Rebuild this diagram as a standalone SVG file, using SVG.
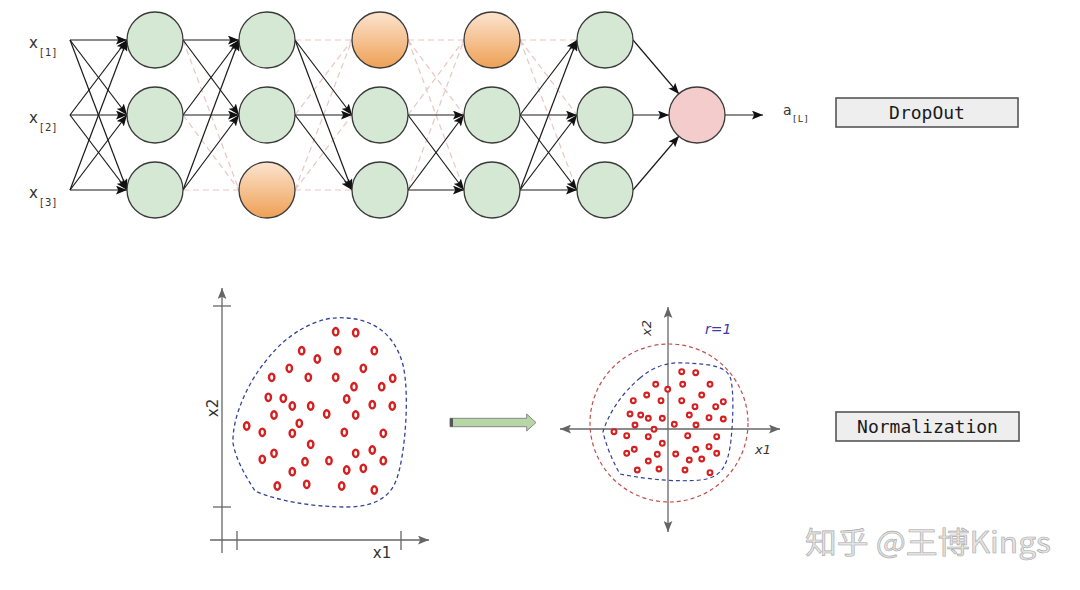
<svg xmlns="http://www.w3.org/2000/svg" width="1080" height="590" viewBox="0 0 1080 590">
<style>
.n{fill:#d5e8d4;stroke:#3a3a3a;stroke-width:1.3}
.o{fill:url(#og);stroke:#3a3a3a;stroke-width:1.3}
.p{fill:#f4cccc;stroke:#3a3a3a;stroke-width:1.3}
.s{stroke:#1a1a1a;stroke-width:1.2;fill:none;marker-end:url(#ah)}
.d{stroke:#e8c6c2;stroke-width:1.2;fill:none;stroke-dasharray:6 4}
.lbl{font-family:"DejaVu Sans",sans-serif;fill:#333}
.box{fill:#eeeeee;stroke:#555;stroke-width:1.6}
.mono{font-family:"DejaVu Sans Mono","Liberation Mono",monospace;font-size:18px;fill:#1a1a1a;text-anchor:middle}
.ax{stroke:#666;stroke-width:1.3;fill:none}
.rl{fill:#fff;stroke:#d42020;stroke-width:2.4}
.rr{fill:#fff;stroke:#d42020;stroke-width:2.1}
</style>
<defs>
<linearGradient id="og" x1="0" y1="0" x2="0" y2="1">
<stop offset="0" stop-color="#fce4cf"/>
<stop offset="1" stop-color="#eea055"/>
</linearGradient>
<marker id="ah" viewBox="0 0 10 8" refX="10" refY="4" markerWidth="11" markerHeight="9" markerUnits="userSpaceOnUse" orient="auto">
<path d="M0,0 L10,4 L0,8 L2,4 z" fill="#111"/>
</marker>
<marker id="ga" viewBox="0 0 10 8" refX="10" refY="4" markerWidth="11" markerHeight="9" markerUnits="userSpaceOnUse" orient="auto">
<path d="M0,0 L10,4 L0,8 L2,4 z" fill="#666"/>
</marker>
<marker id="gs" viewBox="0 0 10 8" refX="0" refY="4" markerWidth="11" markerHeight="9" markerUnits="userSpaceOnUse" orient="auto">
<path d="M10,0 L0,4 L10,8 L8,4 z" fill="#666"/>
</marker>
</defs>
<rect width="1080" height="590" fill="#ffffff"/>

<g id="connectors">
<path class="d" d="M183,40 L239,190 M183,115 L239,190 M183,190 L239,190"/>
<path class="d" d="M295,40 L352,40 M295,115 L352,40 M295,190 L352,40 M295,190 L352,115 M295,190 L352,190"/>
<path class="d" d="M408,40 L464,40 M408,40 L464,115 M408,40 L464,190 M408,115 L464,40 M408,190 L464,40"/>
<path class="d" d="M520,40 L577,40 M520,40 L577,115 M520,40 L577,190"/>
<line class="s" x1="70" y1="40" x2="127" y2="40"/>
<line class="s" x1="70" y1="40" x2="127" y2="115"/>
<line class="s" x1="70" y1="40" x2="127" y2="190"/>
<line class="s" x1="70" y1="115" x2="127" y2="40"/>
<line class="s" x1="70" y1="115" x2="127" y2="115"/>
<line class="s" x1="70" y1="115" x2="127" y2="190"/>
<line class="s" x1="70" y1="190" x2="127" y2="40"/>
<line class="s" x1="70" y1="190" x2="127" y2="115"/>
<line class="s" x1="70" y1="190" x2="127" y2="190"/>
<line class="s" x1="183" y1="40" x2="239" y2="40"/>
<line class="s" x1="183" y1="40" x2="239" y2="115"/>
<line class="s" x1="183" y1="115" x2="239" y2="40"/>
<line class="s" x1="183" y1="115" x2="239" y2="115"/>
<line class="s" x1="183" y1="190" x2="239" y2="40"/>
<line class="s" x1="183" y1="190" x2="239" y2="115"/>
<line class="s" x1="295" y1="40" x2="352" y2="115"/>
<line class="s" x1="295" y1="40" x2="352" y2="190"/>
<line class="s" x1="295" y1="115" x2="352" y2="115"/>
<line class="s" x1="295" y1="115" x2="352" y2="190"/>
<line class="s" x1="408" y1="115" x2="464" y2="115"/>
<line class="s" x1="408" y1="115" x2="464" y2="190"/>
<line class="s" x1="408" y1="190" x2="464" y2="115"/>
<line class="s" x1="408" y1="190" x2="464" y2="190"/>
<line class="s" x1="520" y1="115" x2="577" y2="40"/>
<line class="s" x1="520" y1="115" x2="577" y2="115"/>
<line class="s" x1="520" y1="115" x2="577" y2="190"/>
<line class="s" x1="520" y1="190" x2="577" y2="40"/>
<line class="s" x1="520" y1="190" x2="577" y2="115"/>
<line class="s" x1="520" y1="190" x2="577" y2="190"/>
<line class="s" x1="633" y1="40" x2="679" y2="94"/>
<line class="s" x1="633" y1="115" x2="669" y2="115"/>
<line class="s" x1="633" y1="190" x2="679" y2="136"/>
<line class="s" x1="725" y1="115" x2="763" y2="115"/>
</g>

<g id="inputs">
<text class="lbl" x="29" y="48" font-size="15">x</text><text class="lbl" x="40" y="56" font-size="10" letter-spacing="1">[1]</text>
<text class="lbl" x="29" y="123" font-size="15">x</text><text class="lbl" x="40" y="131" font-size="10" letter-spacing="1">[2]</text>
<text class="lbl" x="29" y="198" font-size="15">x</text><text class="lbl" x="40" y="206" font-size="10" letter-spacing="1">[3]</text>
</g>

<g id="layer1">
<circle class="n" cx="155" cy="40" r="28"/>
<circle class="n" cx="155" cy="115" r="28"/>
<circle class="n" cx="155" cy="190" r="28"/>
</g>
<g id="layer2">
<circle class="n" cx="267" cy="40" r="28"/>
<circle class="n" cx="267" cy="115" r="28"/>
<circle class="o" cx="267" cy="190" r="28"/>
</g>
<g id="layer3">
<circle class="o" cx="380" cy="40" r="28"/>
<circle class="n" cx="380" cy="115" r="28"/>
<circle class="n" cx="380" cy="190" r="28"/>
</g>
<g id="layer4">
<circle class="o" cx="492" cy="40" r="28"/>
<circle class="n" cx="492" cy="115" r="28"/>
<circle class="n" cx="492" cy="190" r="28"/>
</g>
<g id="layer5">
<circle class="n" cx="605" cy="40" r="28"/>
<circle class="n" cx="605" cy="115" r="28"/>
<circle class="n" cx="605" cy="190" r="28"/>
</g>
<g id="output">
<circle class="p" cx="697" cy="115" r="28"/>
<text class="lbl" x="783" y="115" font-size="14">a</text><text class="lbl" x="793" y="122" font-size="9.5" letter-spacing="1">[L]</text>
</g>

<g id="dropout">
<rect class="box" x="836" y="98" width="182" height="29"/>
<text class="mono" x="927" y="119">DropOut</text>
</g>

<g id="plot-left">
<line class="ax" x1="222" y1="553" x2="222" y2="288" marker-end="url(#ga)"/>
<line class="ax" x1="210" y1="540" x2="429" y2="540" marker-end="url(#ga)"/>
<line class="ax" x1="213" y1="306" x2="231" y2="306"/>
<line class="ax" x1="213" y1="507" x2="231" y2="507"/>
<line class="ax" x1="237" y1="531" x2="237" y2="550"/>
<line class="ax" x1="401" y1="531" x2="401" y2="550"/>
<text class="lbl" x="382" y="558" font-size="15" text-anchor="middle">x1</text>
<text class="lbl" x="0" y="0" font-size="15" text-anchor="middle" transform="translate(218,408) rotate(-90)">x2</text>
<path d="M300,330 C320,318 335,317 347,318 C375,320 395,335 403,365 C410,395 405,455 397,478 C390,500 370,507 347,507 C310,507 275,500 255,491 C245,475 236,460 233,443 C232,415 250,380 265,362 C278,345 290,336 300,330 Z" fill="none" stroke="#34409a" stroke-width="1.3" stroke-dasharray="4 3"/>
<g>
<ellipse class="rl" cx="335.7" cy="331.7" rx="2.7" ry="3.7"/>
<ellipse class="rl" cx="355.7" cy="332.7" rx="2.7" ry="3.7"/>
<ellipse class="rl" cx="301.7" cy="350.7" rx="2.7" ry="3.7"/>
<ellipse class="rl" cx="337.7" cy="350.7" rx="2.7" ry="3.7"/>
<ellipse class="rl" cx="374.3" cy="350.7" rx="2.7" ry="3.7"/>
<ellipse class="rl" cx="317.3" cy="359" rx="2.7" ry="3.7"/>
<ellipse class="rl" cx="289.3" cy="368.3" rx="2.7" ry="3.7"/>
<ellipse class="rl" cx="363.3" cy="368.3" rx="2.7" ry="3.7"/>
<ellipse class="rl" cx="271.7" cy="377.3" rx="2.7" ry="3.7"/>
<ellipse class="rl" cx="308.3" cy="377.3" rx="2.7" ry="3.7"/>
<ellipse class="rl" cx="335.7" cy="377.3" rx="2.7" ry="3.7"/>
<ellipse class="rl" cx="392.7" cy="378.3" rx="2.7" ry="3.7"/>
<ellipse class="rl" cx="354" cy="386.7" rx="2.7" ry="3.7"/>
<ellipse class="rl" cx="381.7" cy="386.7" rx="2.7" ry="3.7"/>
<ellipse class="rl" cx="268.3" cy="397.3" rx="2.7" ry="3.7"/>
<ellipse class="rl" cx="283.3" cy="398.3" rx="2.7" ry="3.7"/>
<ellipse class="rl" cx="346.7" cy="399" rx="2.7" ry="3.7"/>
<ellipse class="rl" cx="292.3" cy="406" rx="2.7" ry="3.7"/>
<ellipse class="rl" cx="310.7" cy="406" rx="2.7" ry="3.7"/>
<ellipse class="rl" cx="372.3" cy="404.7" rx="2.7" ry="3.7"/>
<ellipse class="rl" cx="392.3" cy="406" rx="2.7" ry="3.7"/>
<ellipse class="rl" cx="274" cy="415" rx="2.7" ry="3.7"/>
<ellipse class="rl" cx="326.7" cy="414" rx="2.7" ry="3.7"/>
<ellipse class="rl" cx="355.7" cy="415" rx="2.7" ry="3.7"/>
<ellipse class="rl" cx="246.7" cy="426" rx="2.7" ry="3.7"/>
<ellipse class="rl" cx="299.3" cy="423.3" rx="2.7" ry="3.7"/>
<ellipse class="rl" cx="262.3" cy="432.3" rx="2.7" ry="3.7"/>
<ellipse class="rl" cx="292.3" cy="433.3" rx="2.7" ry="3.7"/>
<ellipse class="rl" cx="344.3" cy="432.3" rx="2.7" ry="3.7"/>
<ellipse class="rl" cx="383.3" cy="433.3" rx="2.7" ry="3.7"/>
<ellipse class="rl" cx="310.7" cy="444.3" rx="2.7" ry="3.7"/>
<ellipse class="rl" cx="274" cy="453.3" rx="2.7" ry="3.7"/>
<ellipse class="rl" cx="262.3" cy="459.3" rx="2.7" ry="3.7"/>
<ellipse class="rl" cx="355.7" cy="453.3" rx="2.7" ry="3.7"/>
<ellipse class="rl" cx="372.3" cy="450" rx="2.7" ry="3.7"/>
<ellipse class="rl" cx="305" cy="461.7" rx="2.7" ry="3.7"/>
<ellipse class="rl" cx="329" cy="460.7" rx="2.7" ry="3.7"/>
<ellipse class="rl" cx="383.3" cy="460.7" rx="2.7" ry="3.7"/>
<ellipse class="rl" cx="292.3" cy="471.7" rx="2.7" ry="3.7"/>
<ellipse class="rl" cx="346.7" cy="470" rx="2.7" ry="3.7"/>
<ellipse class="rl" cx="363.3" cy="468.3" rx="2.7" ry="3.7"/>
<ellipse class="rl" cx="277.3" cy="486" rx="2.7" ry="3.7"/>
<ellipse class="rl" cx="306.7" cy="484.3" rx="2.7" ry="3.7"/>
<ellipse class="rl" cx="341.7" cy="486" rx="2.7" ry="3.7"/>
<ellipse class="rl" cx="374.3" cy="490" rx="2.7" ry="3.7"/>
</g>
</g>

<g id="transform-arrow">
<path d="M450,418.3 L526.7,418.3 L526.7,414 L536,422.5 L526.7,431 L526.7,426.7 L450,426.7 Z" fill="#b7d6a5" stroke="#888" stroke-width="1"/>
<rect x="450" y="418.3" width="3" height="8.4" fill="#555"/>
</g>

<g id="plot-right">
<line class="ax" x1="668" y1="307" x2="668" y2="532" marker-start="url(#gs)" marker-end="url(#ga)"/>
<line class="ax" x1="560" y1="429" x2="780" y2="429" marker-start="url(#gs)" marker-end="url(#ga)"/>
<circle cx="669" cy="423" r="79" fill="none" stroke="#c0504d" stroke-width="1.2" stroke-dasharray="4 3"/>
<path d="M640,378 C655,365 670,362 685,363 C710,364 728,366 731,380 C734,395 733,420 731,440 C728,465 722,478 700,480 C680,482 650,480 620,474 C612,460 606,445 603,432 C608,415 620,395 640,378 Z" fill="none" stroke="#34409a" stroke-width="1.2" stroke-dasharray="4 3"/>
<text class="lbl" x="0" y="0" font-size="13" font-style="italic" text-anchor="middle" transform="translate(651,328) rotate(-90)">x2</text>
<text x="705" y="334" font-family="DejaVu Sans,sans-serif" font-size="14" font-style="italic" fill="#3a3aa8">r=1</text>
<text class="lbl" x="755" y="454" font-size="13" font-style="italic" fill="#555">x1</text>
<g>
<circle class="rr" cx="681.7" cy="371.7" r="2.4"/>
<circle class="rr" cx="695.7" cy="372.7" r="2.4"/>
<circle class="rr" cx="655.7" cy="384.3" r="2.4"/>
<circle class="rr" cx="667.7" cy="389.3" r="2.4"/>
<circle class="rr" cx="682.7" cy="384.3" r="2.4"/>
<circle class="rr" cx="710" cy="384.3" r="2.4"/>
<circle class="rr" cx="646.7" cy="395" r="2.4"/>
<circle class="rr" cx="701.7" cy="395" r="2.4"/>
<circle class="rr" cx="633.3" cy="400.7" r="2.4"/>
<circle class="rr" cx="661" cy="400.7" r="2.4"/>
<circle class="rr" cx="681.7" cy="400.7" r="2.4"/>
<circle class="rr" cx="723.3" cy="401.7" r="2.4"/>
<circle class="rr" cx="695" cy="406.7" r="2.4"/>
<circle class="rr" cx="715.7" cy="406.7" r="2.4"/>
<circle class="rr" cx="630" cy="414" r="2.4"/>
<circle class="rr" cx="640.7" cy="415" r="2.4"/>
<circle class="rr" cx="689.3" cy="415" r="2.4"/>
<circle class="rr" cx="648.3" cy="418.3" r="2.4"/>
<circle class="rr" cx="662.3" cy="418.3" r="2.4"/>
<circle class="rr" cx="709" cy="417.7" r="2.4"/>
<circle class="rr" cx="723.3" cy="419" r="2.4"/>
<circle class="rr" cx="635" cy="425" r="2.4"/>
<circle class="rr" cx="674.3" cy="424.3" r="2.4"/>
<circle class="rr" cx="696" cy="425" r="2.4"/>
<circle class="rr" cx="614" cy="431.7" r="2.4"/>
<circle class="rr" cx="654" cy="429.3" r="2.4"/>
<circle class="rr" cx="626.7" cy="435.7" r="2.4"/>
<circle class="rr" cx="648.3" cy="436.7" r="2.4"/>
<circle class="rr" cx="687.7" cy="435.7" r="2.4"/>
<circle class="rr" cx="716.7" cy="436.7" r="2.4"/>
<circle class="rr" cx="662.3" cy="443.3" r="2.4"/>
<circle class="rr" cx="634.3" cy="449.3" r="2.4"/>
<circle class="rr" cx="626.7" cy="453.3" r="2.4"/>
<circle class="rr" cx="709" cy="446.7" r="2.4"/>
<circle class="rr" cx="695.7" cy="449.3" r="2.4"/>
<circle class="rr" cx="657.3" cy="454.3" r="2.4"/>
<circle class="rr" cx="675.7" cy="454" r="2.4"/>
<circle class="rr" cx="716.7" cy="453.3" r="2.4"/>
<circle class="rr" cx="648.3" cy="461" r="2.4"/>
<circle class="rr" cx="689.3" cy="460" r="2.4"/>
<circle class="rr" cx="701.7" cy="459" r="2.4"/>
<circle class="rr" cx="637.3" cy="470" r="2.4"/>
<circle class="rr" cx="659" cy="469" r="2.4"/>
<circle class="rr" cx="685" cy="470" r="2.4"/>
<circle class="rr" cx="710" cy="472.7" r="2.4"/>
</g>
</g>

<g id="normalization">
<rect class="box" x="836" y="412" width="183" height="29"/>
<text class="mono" x="927.5" y="433">Normalization</text>
</g>

<g id="watermark">
<text x="805" y="553" font-family="'Noto Sans CJK SC',sans-serif" font-size="30" fill="#e4e4e4" stroke="#a8a8a8" stroke-width="0.6" textLength="246" lengthAdjust="spacingAndGlyphs">知乎 @王博Kings</text>
</g>
</svg>
